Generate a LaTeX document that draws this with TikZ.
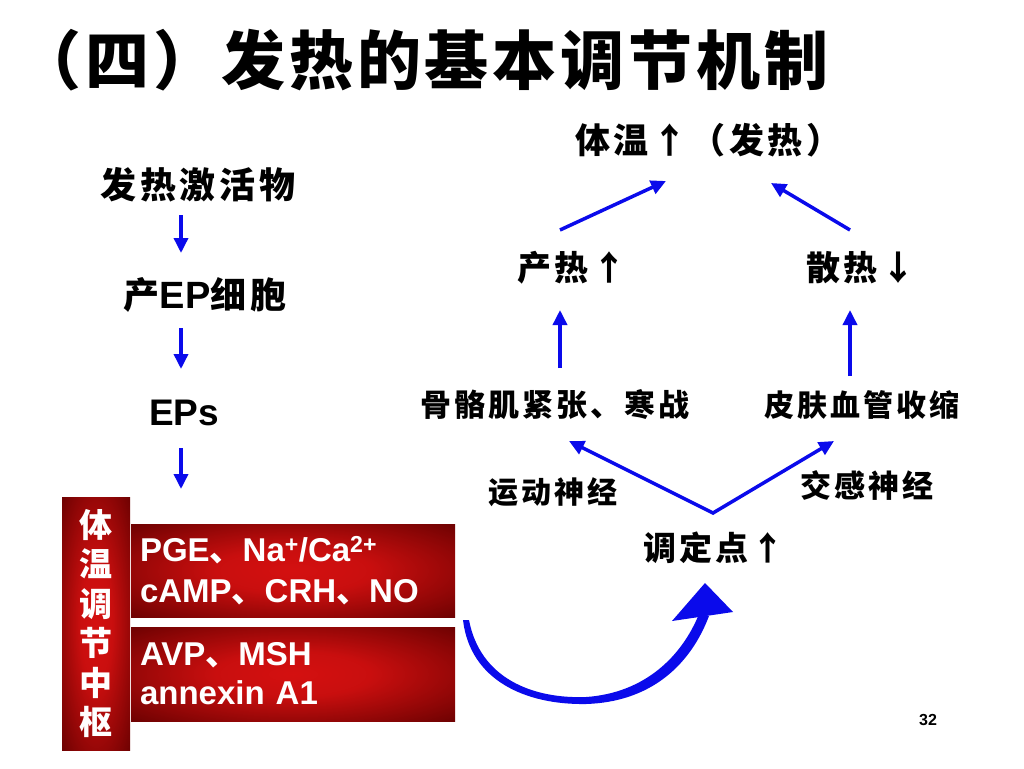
\documentclass[tikz,border=0pt]{standalone}
\usepackage{fontspec}
\setmainfont{Liberation Sans}
\newfontfamily\lat{Liberation Sans}
\newfontfamily\cjk{Noto Sans CJK SC}[LetterSpace=10]
\newfontfamily\cjkt{Noto Sans CJK SC}[LetterSpace=6]
\newfontfamily\cjkv{Noto Sans CJK SC}
\usetikzlibrary{arrows.meta}
\definecolor{arrblue}{RGB}{10,10,235}
\definecolor{rdark}{RGB}{100,0,0}
\definecolor{rbright}{RGB}{212,16,16}
\pgfdeclareradialshading{redglow}{\pgfpoint{0bp}{0bp}}{color(0bp)=(rbright); color(12bp)=(rbright!90!rdark); color(38bp)=(rdark); color(50bp)=(rdark)}
\begin{document}
\begin{tikzpicture}[x=1pt,y=-1pt,
  cn/.style={inner sep=0pt, font=\cjk\bfseries\fontsize{#1}{#1}\selectfont},
  ln/.style={inner sep=0pt, font=\lat\bfseries\fontsize{#1}{#1}\selectfont},
  arr/.style={draw=arrblue, line width=3.5pt, -{Triangle[length=15pt,width=14pt]}},
  redbox/.style={shade, shading=redglow, inner sep=0pt, text=white}]
\useasboundingbox[fill=white] (0,0) rectangle (1024,768);

% title
\node[inner sep=0pt, font=\cjkt\bfseries\fontsize{64}{64}\selectfont] (title) at (423,60) {（四）发热的基本调节机制};

% left column
\node[cn=36] (act) at (198,185) {发热激活物};
\node[cn=36] (cell) at (205,295) {产{\lat\bfseries\fontsize{38}{38}\selectfont EP}细胞};
\node[ln=37] (eps) at (184,413) {EPs};

\coordinate (l1s) at (181,215); \coordinate (l1e) at (181,253);
\coordinate (l2s) at (181,328); \coordinate (l2e) at (181,369);
\coordinate (l3s) at (181,448); \coordinate (l3e) at (181,489);
\draw[arr] (l1s) -- (l1e);
\draw[arr] (l2s) -- (l2e);
\draw[arr] (l3s) -- (l3e);

% red boxes
\node[redbox, minimum width=68pt, minimum height=253pt, align=center,
      font=\cjkv\bfseries\fontsize{33}{39.5}\selectfont] (center) at (96,623.5)
      {体\\温\\调\\节\\中\\枢};
\node[redbox, minimum width=324pt, minimum height=93pt, text width=306pt,
      inner xsep=9pt, align=left, font=\lat\bfseries\fontsize{33}{41}\selectfont]
      (b1) at (293,570.5)
      {PGE{\cjkv 、}Na\textsuperscript{+}/Ca\textsuperscript{2+}\\cAMP{\cjkv 、}CRH{\cjkv 、}NO};
\node[redbox, minimum width=324pt, minimum height=94pt, text width=306pt,
      inner xsep=9pt, align=left, font=\lat\bfseries\fontsize{33}{39}\selectfont]
      (b2) at (293,674)
      {AVP{\cjkv 、}MSH\\annexin A1};

% right side
\node[cn=35] (temp) at (708,140) {体温↑（发热）};
\node[cn=34] (heat) at (572,268) {产热↑};
\node[cn=34] (loss) at (861,268) {散热↓};
\node[cn=31] (musc) at (555,405) {骨骼肌紧张、寒战};
\node[cn=30] (skin) at (862,405) {皮肤血管收缩};
\node[cn=30] (motor) at (553,492) {运动神经};
\node[cn=31] (symp) at (867,485) {交感神经};
\node[cn=33] (setp) at (714,548) {调定点↑};
\node[ln=16] (page) at (928,720) {32};

\coordinate (h1s) at (560,230); \coordinate (h1e) at (666,181);
\coordinate (h2s) at (850,230); \coordinate (h2e) at (771,183);
\coordinate (m1s) at (560,368); \coordinate (m1e) at (560,310);
\coordinate (m2s) at (850,376); \coordinate (m2e) at (850,310);
\coordinate (vl) at (569,441); \coordinate (vv) at (713,513); \coordinate (vr) at (834,441);
\draw[arr] (h1s) -- (h1e);
\draw[arr] (h2s) -- (h2e);
\draw[arr] (m1s) -- (m1e);
\draw[arr] (m2s) -- (m2e);
\draw[arr, {Triangle[length=15pt,width=14pt]}-{Triangle[length=15pt,width=14pt]}, line join=miter] (vl) -- (vv) -- (vr);

% big curved arrow
\fill[arrblue] (463,620) .. controls (470,680) and (525,705) .. (586,704)
  .. controls (650,702) and (690,666) .. (709,616) -- (699,614)
  .. controls (682,656) and (645,693) .. (586,697)
  .. controls (532,699) and (480,678) .. (469,620) -- cycle;
\fill[arrblue] (705,583) -- (672,621) -- (733,612) -- cycle;
\end{tikzpicture}
\end{document}
